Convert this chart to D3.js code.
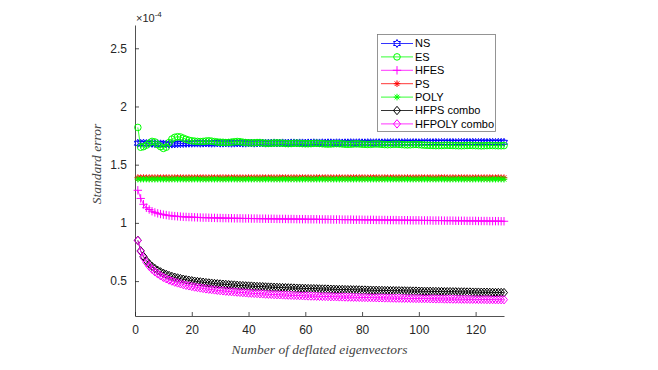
<!DOCTYPE html>
<html>
<head>
<meta charset="utf-8">
<script src="https://cdn.jsdelivr.net/npm/d3@7"></script>
<style>
  body { margin: 0; background: #fff; }
  svg { display: block; }
  .tick text { font-family: 'Liberation Sans', Arial, sans-serif; font-size: 12px; fill: #262626; }
</style>
</head>
<body>
<div id="chart"></div>
<script>

// number of deflated eigenvectors (x values 1..130)
var deflated = d3.range( 1, 131 );

var ns_values = [
    1.684,1.683,1.685,1.682,1.684,1.683,1.681,1.680,1.679,1.678,
    1.677,1.676,1.677,1.678,1.680,1.681,1.682,1.683,1.684,1.684,
    1.685,1.685,1.684,1.685,1.686,1.685,1.684,1.685,1.686,1.685,
    1.685,1.686,1.685,1.684,1.685,1.686,1.686,1.685,1.685,1.686,
    1.686,1.685,1.686,1.687,1.686,1.685,1.686,1.686,1.687,1.686,
    1.686,1.687,1.686,1.686,1.687,1.687,1.686,1.687,1.687,1.686,
    1.687,1.687,1.688,1.687,1.687,1.688,1.687,1.688,1.688,1.687,
    1.688,1.688,1.687,1.688,1.688,1.689,1.688,1.688,1.689,1.688,
    1.688,1.689,1.689,1.688,1.689,1.689,1.688,1.689,1.689,1.690,
    1.689,1.689,1.690,1.689,1.690,1.690,1.689,1.690,1.690,1.689,
    1.690,1.690,1.691,1.690,1.690,1.691,1.690,1.691,1.691,1.690,
    1.691,1.691,1.690,1.691,1.691,1.692,1.691,1.691,1.692,1.691,
    1.691,1.692,1.692,1.691,1.692,1.692,1.691,1.692,1.692,1.692
];

var es_values = [
    1.820,1.650,1.655,1.668,1.685,1.700,1.695,1.672,1.655,1.640,
    1.650,1.690,1.720,1.735,1.740,1.738,1.728,1.718,1.710,1.705,
    1.702,1.700,1.698,1.700,1.703,1.705,1.702,1.698,1.695,1.693,
    1.692,1.690,1.691,1.694,1.697,1.699,1.697,1.693,1.690,1.688,
    1.687,1.688,1.690,1.689,1.686,1.684,1.683,1.684,1.686,1.687,
    1.686,1.684,1.682,1.681,1.682,1.684,1.685,1.683,1.681,1.680,
    1.680,1.681,1.683,1.684,1.682,1.680,1.678,1.677,1.678,1.680,
    1.681,1.680,1.678,1.676,1.675,1.676,1.678,1.679,1.678,1.676,
    1.675,1.674,1.675,1.677,1.678,1.677,1.675,1.673,1.672,1.673,
    1.675,1.676,1.675,1.673,1.671,1.670,1.671,1.673,1.674,1.672,
    1.670,1.668,1.667,1.666,1.665,1.664,1.664,1.665,1.666,1.667,
    1.666,1.665,1.664,1.663,1.663,1.664,1.665,1.666,1.665,1.664,
    1.663,1.662,1.663,1.664,1.665,1.665,1.664,1.663,1.663,1.664
];

var hfes_values = [
    1.280,1.210,1.160,1.130,1.115,1.100,1.090,1.082,1.076,1.071,
    1.067,1.063,1.060,1.058,1.056,1.054,1.052,1.051,1.050,1.049,
    1.048,1.047,1.046,1.045,1.045,1.044,1.043,1.043,1.042,1.042,
    1.041,1.041,1.040,1.040,1.039,1.039,1.039,1.038,1.038,1.038,
    1.037,1.037,1.037,1.036,1.036,1.036,1.035,1.035,1.035,1.034,
    1.034,1.034,1.034,1.033,1.033,1.033,1.032,1.032,1.032,1.032,
    1.031,1.031,1.031,1.031,1.030,1.030,1.030,1.030,1.029,1.029,
    1.029,1.029,1.028,1.028,1.028,1.028,1.027,1.027,1.027,1.027,
    1.026,1.026,1.026,1.026,1.025,1.025,1.025,1.025,1.024,1.024,
    1.024,1.024,1.023,1.023,1.023,1.023,1.022,1.022,1.022,1.022,
    1.021,1.021,1.021,1.021,1.020,1.020,1.020,1.020,1.019,1.019,
    1.019,1.019,1.018,1.018,1.018,1.018,1.017,1.017,1.017,1.017,
    1.016,1.016,1.016,1.016,1.015,1.015,1.015,1.015,1.014,1.014
];

var ps_values = [
    1.389,1.388,1.389,1.388,1.388,1.389,1.388,1.389,1.388,1.388,
    1.389,1.388,1.388,1.389,1.388,1.389,1.388,1.388,1.389,1.388,
    1.388,1.389,1.388,1.389,1.388,1.388,1.389,1.388,1.388,1.389,
    1.388,1.389,1.388,1.388,1.389,1.388,1.389,1.388,1.388,1.389,
    1.388,1.388,1.389,1.388,1.389,1.388,1.388,1.389,1.388,1.388,
    1.389,1.388,1.389,1.388,1.388,1.389,1.388,1.388,1.389,1.388,
    1.389,1.388,1.388,1.389,1.388,1.388,1.389,1.388,1.389,1.388,
    1.388,1.389,1.388,1.388,1.389,1.388,1.389,1.388,1.388,1.389,
    1.388,1.388,1.389,1.388,1.389,1.388,1.388,1.389,1.388,1.388,
    1.389,1.388,1.389,1.388,1.388,1.389,1.388,1.388,1.389,1.388,
    1.389,1.388,1.388,1.389,1.388,1.388,1.389,1.388,1.389,1.388,
    1.388,1.389,1.388,1.388,1.389,1.388,1.389,1.388,1.388,1.389,
    1.388,1.388,1.389,1.388,1.389,1.388,1.388,1.389,1.388,1.388
];

var poly_values = [
    1.376,1.375,1.376,1.376,1.375,1.376,1.375,1.376,1.376,1.375,
    1.376,1.375,1.376,1.376,1.375,1.376,1.376,1.375,1.376,1.375,
    1.376,1.376,1.375,1.376,1.375,1.376,1.376,1.375,1.376,1.376,
    1.375,1.376,1.375,1.376,1.376,1.375,1.376,1.375,1.376,1.376,
    1.375,1.376,1.376,1.375,1.376,1.375,1.376,1.376,1.375,1.376,
    1.375,1.376,1.376,1.375,1.376,1.376,1.375,1.376,1.375,1.376,
    1.376,1.375,1.376,1.375,1.376,1.376,1.375,1.376,1.376,1.375,
    1.376,1.375,1.376,1.376,1.375,1.376,1.375,1.376,1.376,1.375,
    1.376,1.376,1.375,1.376,1.375,1.376,1.376,1.375,1.376,1.375,
    1.376,1.376,1.375,1.376,1.376,1.375,1.376,1.375,1.376,1.376,
    1.375,1.376,1.375,1.376,1.376,1.375,1.376,1.376,1.375,1.376,
    1.375,1.376,1.376,1.375,1.376,1.375,1.376,1.376,1.375,1.376,
    1.376,1.375,1.376,1.376,1.375,1.376,1.375,1.376,1.376,1.375
];

var hfps_values = [
    0.850,0.760,0.712,0.676,0.648,0.626,0.608,0.592,0.579,0.567,
    0.557,0.548,0.540,0.533,0.527,0.521,0.516,0.511,0.507,0.503,
    0.499,0.496,0.493,0.490,0.487,0.484,0.482,0.479,0.477,0.475,
    0.473,0.471,0.469,0.467,0.466,0.464,0.462,0.461,0.459,0.458,
    0.457,0.455,0.454,0.453,0.452,0.450,0.449,0.448,0.447,0.446,
    0.445,0.444,0.443,0.442,0.441,0.440,0.439,0.439,0.438,0.437,
    0.436,0.435,0.435,0.434,0.433,0.432,0.432,0.431,0.430,0.430,
    0.429,0.428,0.428,0.427,0.426,0.426,0.425,0.425,0.424,0.423,
    0.423,0.422,0.422,0.421,0.421,0.420,0.420,0.419,0.419,0.418,
    0.418,0.417,0.417,0.416,0.416,0.415,0.415,0.414,0.414,0.413,
    0.413,0.412,0.412,0.412,0.411,0.411,0.410,0.410,0.409,0.409,
    0.409,0.408,0.408,0.407,0.407,0.407,0.406,0.406,0.405,0.405,
    0.405,0.404,0.404,0.404,0.403,0.403,0.402,0.402,0.402,0.401
];

var hfpoly_values = [
    0.848,0.755,0.700,0.660,0.628,0.602,0.580,0.562,0.546,0.532,
    0.520,0.509,0.500,0.491,0.484,0.477,0.470,0.464,0.459,0.454,
    0.449,0.445,0.441,0.437,0.433,0.430,0.427,0.424,0.421,0.418,
    0.416,0.413,0.411,0.409,0.407,0.405,0.403,0.401,0.399,0.397,
    0.396,0.394,0.393,0.391,0.390,0.388,0.387,0.386,0.384,0.383,
    0.382,0.381,0.380,0.379,0.378,0.377,0.376,0.375,0.374,0.373,
    0.372,0.371,0.371,0.370,0.369,0.368,0.368,0.367,0.366,0.366,
    0.365,0.364,0.364,0.363,0.362,0.362,0.361,0.361,0.360,0.359,
    0.359,0.358,0.358,0.357,0.357,0.356,0.356,0.355,0.355,0.354,
    0.354,0.353,0.353,0.352,0.352,0.352,0.351,0.351,0.350,0.350,
    0.349,0.349,0.349,0.348,0.348,0.347,0.347,0.347,0.346,0.346,
    0.346,0.345,0.345,0.345,0.344,0.344,0.344,0.343,0.343,0.343,
    0.342,0.342,0.342,0.341,0.341,0.341,0.340,0.340,0.340,0.340
];

var series_names = [ 'NS', 'ES', 'HFES', 'PS', 'POLY', 'HFPS combo', 'HFPOLY combo' ];
var series_values = [ ns_values, es_values, hfes_values, ps_values, poly_values, hfps_values, hfpoly_values ];
var series_colors = [ '#0000ff', '#00ff00', '#ff00ff', '#ff0000', '#00ff00', '#000000', '#ff00ff' ];
var series_markers = [ 'hexagram', 'circle', 'plus', 'asterisk', 'asterisk', 'diamond', 'diamond' ];

var x_ticks = [ 0, 20, 40, 60, 80, 100, 120 ];
var y_ticks = [ 0.5, 1, 1.5, 2, 2.5 ];

var width = 658;
var height = 370;
var margin = { left: 135, right: 154, top: 25, bottom: 54 };

var svg = d3.select( '#chart' ).append( 'svg' )
    .attr( 'width', width )
    .attr( 'height', height );

var x = d3.scaleLinear()
    .domain( [ 0, 130 ] )
    .range( [ margin.left, width - margin.right ] );

var y = d3.scaleLinear()
    .domain( [ 0.2, 2.7 ] )
    .range( [ height - margin.bottom, margin.top ] );

var axis_color = '#262626';

// Axes, MATLAB style: inward ticks, no box
var x_axis = svg.append( 'g' )
    .attr( 'transform', 'translate(0,' + ( height - margin.bottom ) + ')' )
    .call( d3.axisBottom( x ).tickValues( x_ticks ).tickSizeInner( -4 ).tickSizeOuter( 0 ).tickPadding( 9 ) );

var y_axis = svg.append( 'g' )
    .attr( 'transform', 'translate(' + margin.left + ',0)' )
    .call( d3.axisLeft( y ).tickValues( y_ticks ).tickSizeInner( -4 ).tickSizeOuter( 0 ).tickPadding( 8 )
        .tickFormat( function ( d ) { return String( d ); } ) );

[ x_axis, y_axis ].forEach( function ( a ) {
    a.select( '.domain' ).attr( 'stroke', axis_color ).attr( 'stroke-width', 0.8 );
    a.selectAll( '.tick line' ).attr( 'stroke', axis_color ).attr( 'stroke-width', 0.8 );
});

// Exponent label
var exponent = svg.append( 'text' )
    .attr( 'x', margin.left + 1 )
    .attr( 'y', 22 )
    .attr( 'font-family', 'Liberation Sans, Arial, sans-serif' )
    .attr( 'font-size', 11 )
    .attr( 'fill', axis_color );
exponent.append( 'tspan' ).text( '\u00d710' );
exponent.append( 'tspan' ).attr( 'dy', -5 ).attr( 'font-size', 8 ).text( '-4' );

// Axis labels
svg.append( 'text' )
    .attr( 'x', x( 65 ) )
    .attr( 'y', 354 )
    .attr( 'text-anchor', 'middle' )
    .attr( 'font-family', 'Liberation Serif, serif' )
    .attr( 'font-style', 'italic' )
    .attr( 'font-size', 13.5 )
    .attr( 'fill', '#444' )
    .text( 'Number of deflated eigenvectors' );

svg.append( 'text' )
    .attr( 'transform', 'translate(101,164) rotate(-90)' )
    .attr( 'text-anchor', 'middle' )
    .attr( 'font-family', 'Liberation Serif, serif' )
    .attr( 'font-style', 'italic' )
    .attr( 'font-size', 13.5 )
    .attr( 'fill', '#444' )
    .text( 'Standard error' );

function marker_path ( type ) {

    var r = 3.3;
    if ( type === 'circle' ) {
        return d3.symbol().type( d3.symbolCircle ).size( Math.PI * r * r )();
    }
    if ( type === 'plus' ) {
        r = 4.2;
        return 'M' + -r + ',0H' + r + 'M0,' + -r + 'V' + r;
    }
    if ( type === 'asterisk' ) {
        var a = r * 0.7071;
        return 'M' + -r + ',0H' + r + 'M0,' + -r + 'V' + r +
            'M' + -a + ',' + -a + 'L' + a + ',' + a + 'M' + -a + ',' + a + 'L' + a + ',' + -a;
    }
    if ( type === 'diamond' ) {
        return 'M0,' + -4.2 + 'L3.5,0L0,4.2L-3.5,0Z';
    }
    if ( type === 'hexagram' ) {
        var pts = d3.range( 12 ).map( function ( i ) {
            var ang = i * Math.PI / 6 - Math.PI / 2;
            var rad = i % 2 === 0 ? 4 : 2.3;
            return [ rad * Math.cos( ang ), rad * Math.sin( ang ) ];
        });
        return 'M' + pts.join( 'L' ) + 'Z';
    }
    return '';

}

var line = d3.line()
    .x( function ( d ) { return x( d[ 0 ] ); } )
    .y( function ( d ) { return y( d[ 1 ] ); } );

var plot = svg.append( 'g' );

series_values.forEach( function ( values, i ) {

    var data = d3.zip( deflated, values );
    var g = plot.append( 'g' );

    g.append( 'path' )
        .datum( data )
        .attr( 'd', line )
        .attr( 'fill', 'none' )
        .attr( 'stroke', series_colors[ i ] )
        .attr( 'stroke-width', 0.8 );

    g.selectAll( 'path.marker' )
        .data( data )
        .enter().append( 'path' )
        .attr( 'class', 'marker' )
        .attr( 'transform', function ( d ) { return 'translate(' + x( d[ 0 ] ) + ',' + y( d[ 1 ] ) + ')'; } )
        .attr( 'd', marker_path( series_markers[ i ] ) )
        .attr( 'fill', 'none' )
        .attr( 'stroke', series_colors[ i ] )
        .attr( 'stroke-width', 1 );

});

// Legend
var legend_x = 377;
var legend_y = 34;
var legend_w = 118;
var legend_h = 97;
var row_h = 13.4;

var legend = svg.append( 'g' );

legend.append( 'rect' )
    .attr( 'x', legend_x + 0.5 )
    .attr( 'y', legend_y + 0.5 )
    .attr( 'width', legend_w )
    .attr( 'height', legend_h )
    .attr( 'fill', '#fff' )
    .attr( 'stroke', '#7a7a7a' )
    .attr( 'stroke-width', 0.8 );

series_names.forEach( function ( name, i ) {

    var cy = legend_y + 9.5 + i * row_h;
    var row = legend.append( 'g' );

    row.append( 'line' )
        .attr( 'x1', legend_x + 4 )
        .attr( 'x2', legend_x + 36 )
        .attr( 'y1', cy )
        .attr( 'y2', cy )
        .attr( 'stroke', series_colors[ i ] )
        .attr( 'stroke-width', 0.8 );

    row.append( 'path' )
        .attr( 'transform', 'translate(' + ( legend_x + 20 ) + ',' + cy + ')' )
        .attr( 'd', marker_path( series_markers[ i ] ) )
        .attr( 'fill', 'none' )
        .attr( 'stroke', series_colors[ i ] )
        .attr( 'stroke-width', 1 );

    row.append( 'text' )
        .attr( 'x', legend_x + 38 )
        .attr( 'y', cy )
        .attr( 'dy', '0.35em' )
        .attr( 'font-family', 'Liberation Sans, Arial, sans-serif' )
        .attr( 'font-size', 11 )
        .attr( 'fill', '#000' )
        .text( name );

});

</script>
</body>
</html>
